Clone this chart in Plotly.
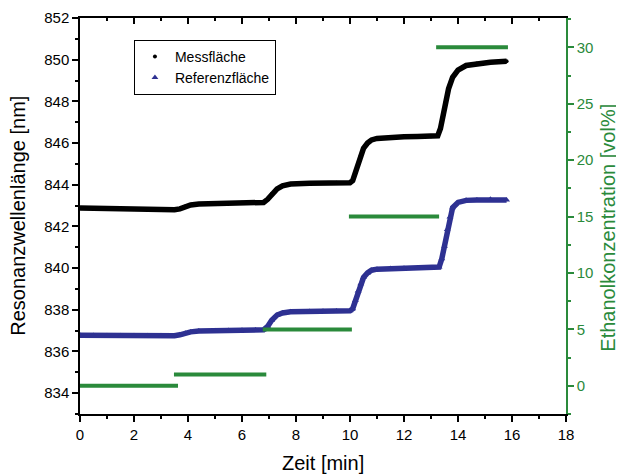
import plotly.graph_objects as go

# ---- data ----
t_mess = [0.0, 0.5, 1.0, 1.5, 2.0, 2.5, 3.0, 3.5, 3.7, 3.9, 4.1, 4.4, 5.0, 5.5, 6.0, 6.5, 6.8,
          6.95, 7.1, 7.3, 7.5, 7.8, 8.5, 9.0, 9.5, 10.0, 10.1, 10.2, 10.3, 10.4, 10.5, 10.65,
          10.8, 11.0, 11.5, 12.0, 12.5, 13.0, 13.25, 13.35, 13.45, 13.55, 13.65, 13.8, 14.0,
          14.3, 14.7, 15.2, 15.8]
v_mess = [842.88, 842.86, 842.85, 842.84, 842.83, 842.82, 842.80, 842.80, 842.84, 842.95,
          843.03, 843.08, 843.10, 843.12, 843.13, 843.14, 843.15, 843.30, 843.55, 843.80,
          843.95, 844.03, 844.07, 844.08, 844.09, 844.10, 844.20, 844.55, 845.00, 845.40,
          845.75, 846.00, 846.15, 846.22, 846.28, 846.30, 846.32, 846.33, 846.35, 846.70,
          847.30, 848.00, 848.60, 849.15, 849.50, 849.72, 849.82, 849.88, 849.92]

t_ref = [0.0, 0.5, 1.0, 1.5, 2.0, 2.5, 3.0, 3.5, 3.7, 3.9, 4.1, 4.4, 5.0, 5.5, 6.0, 6.5, 6.8,
         6.95, 7.1, 7.3, 7.5, 7.8, 8.5, 9.0, 9.5, 10.0, 10.1, 10.2, 10.3, 10.4, 10.5, 10.65,
         10.8, 11.0, 11.5, 12.0, 12.5, 13.0, 13.3, 13.4, 13.5, 13.6, 13.7, 13.8, 14.0, 14.3,
         14.7, 15.2, 15.8]
v_ref = [836.78, 836.77, 836.76, 836.75, 836.75, 836.75, 836.75, 836.76, 836.80, 836.88,
         836.94, 836.98, 837.00, 837.01, 837.02, 837.03, 837.04, 837.20, 837.50, 837.75,
         837.85, 837.90, 837.92, 837.93, 837.94, 837.95, 838.05, 838.45, 838.90, 839.25,
         839.55, 839.77, 839.90, 839.95, 839.98, 839.99, 840.00, 840.01, 840.05, 840.45,
         841.05, 841.85, 842.45, 842.90, 843.15, 843.25, 843.27, 843.30, 843.27]

conc_values = [0, 1, 5, 15, 30]
conc_start = [0.0, 3.48, 6.77, 9.96, 13.19]
conc_end = [3.63, 6.9, 10.07, 13.3, 15.85]

x_ticks = [0, 2, 4, 6, 8, 10, 12, 14, 16, 18]
y_ticks = [834, 836, 838, 840, 842, 844, 846, 848, 850, 852]
y2_ticks = [0, 5, 10, 15, 20, 25, 30]

BLACK = "#000000"
BLUE = "#2E3192"
GREEN = "#2A8A3B"
FONT = "Liberation Sans, Arial, sans-serif"

cx, cy = [], []
for s, e, v in zip(conc_start, conc_end, conc_values):
    cx += [s, e, None]
    cy += [v, v, None]

fig = go.Figure()
fig.add_trace(go.Scatter(x=t_mess, y=v_mess, mode="lines", line=dict(color=BLACK, width=5.5),
                         showlegend=False, hoverinfo="skip"))
fig.add_trace(go.Scatter(x=t_mess, y=v_mess, mode="markers", name="Messfläche",
                         marker=dict(color=BLACK, size=4, symbol="circle")))
fig.add_trace(go.Scatter(x=t_ref, y=v_ref, mode="lines", line=dict(color=BLUE, width=5.5),
                         showlegend=False, hoverinfo="skip"))
fig.add_trace(go.Scatter(x=t_ref, y=v_ref, mode="markers", name="Referenzfläche",
                         marker=dict(color=BLUE, size=6, symbol="triangle-up")))
fig.add_trace(go.Scatter(x=cx, y=cy, mode="lines", line=dict(color=GREEN, width=4),
                         yaxis="y2", showlegend=False, connectgaps=False))
# dummy trace for the top (mirror) axis with inward ticks
fig.add_trace(go.Scatter(x=[None], y=[None], xaxis="x2", showlegend=False, hoverinfo="skip"))

# the page body has an 8px margin, so the figure is sized to fit the 624x475 window
fig.update_layout(
    width=616, height=467,
    margin=dict(l=72, r=58, t=10, b=61, autoexpand=False),
    paper_bgcolor="white", plot_bgcolor="white",
    font=dict(family=FONT, size=15, color="black"),
    showlegend=True,
    legend=dict(x=0.111, y=0.945, xanchor="left", yanchor="top",
                bordercolor="black", borderwidth=1, bgcolor="white",
                font=dict(size=14), itemsizing="trace", tracegroupgap=0),
    xaxis=dict(range=[0, 18], tickvals=x_ticks, showgrid=False, zeroline=False,
               automargin=False,
               showline=True, linecolor="black", linewidth=1.5,
               ticks="outside", ticklen=6, tickwidth=1.5, tickcolor="black",
               minor=dict(dtick=1, ticks="outside", ticklen=3, tickwidth=1.5, tickcolor="black")),
    xaxis2=dict(range=[0, 18], overlaying="x", side="top", anchor="y", matches="x",
                automargin=False,
                tickvals=x_ticks, showticklabels=False, showgrid=False, zeroline=False,
                showline=True, linecolor="black", linewidth=1.5,
                ticks="inside", ticklen=6, tickwidth=1.5, tickcolor="black",
                minor=dict(dtick=1, ticks="inside", ticklen=3, tickwidth=1.5, tickcolor="black")),
    yaxis=dict(range=[833.0, 852.0], tickvals=y_ticks, showgrid=False, zeroline=False,
               automargin=False,
               showline=True, linecolor="black", linewidth=1.5,
               ticks="outside", ticklen=6, tickwidth=1.5, tickcolor="black",
               minor=dict(dtick=1, ticks="outside", ticklen=3, tickwidth=1.5, tickcolor="black")),
    yaxis2=dict(range=[-2.5, 32.6], tickvals=y2_ticks, overlaying="y", side="right",
                automargin=False, showgrid=False, zeroline=False,
                showline=True, linecolor=GREEN, linewidth=1.5,
                ticks="outside", ticklen=6, tickwidth=1.5, tickcolor=GREEN,
                tickfont=dict(color=GREEN, size=15),
                minor=dict(dtick=2.5, ticks="outside", ticklen=3, tickwidth=1.5, tickcolor=GREEN)),
    annotations=[
        dict(text="Zeit [min]", xref="paper", yref="paper", x=0.5, y=-0.124,
             xanchor="center", yanchor="middle", showarrow=False, font=dict(size=20)),
        dict(text="Resonanzwellenlänge [nm]", xref="paper", yref="paper", x=-0.128, y=0.5,
             xanchor="center", yanchor="middle", showarrow=False, textangle=-90,
             font=dict(size=20)),
        dict(text="Ethanolkonzentration [vol%]", xref="paper", yref="paper", x=1.086, y=0.47,
             xanchor="center", yanchor="middle", showarrow=False, textangle=-90,
             font=dict(size=20, color=GREEN)),
    ],
)

fig.write_html("out.html")
